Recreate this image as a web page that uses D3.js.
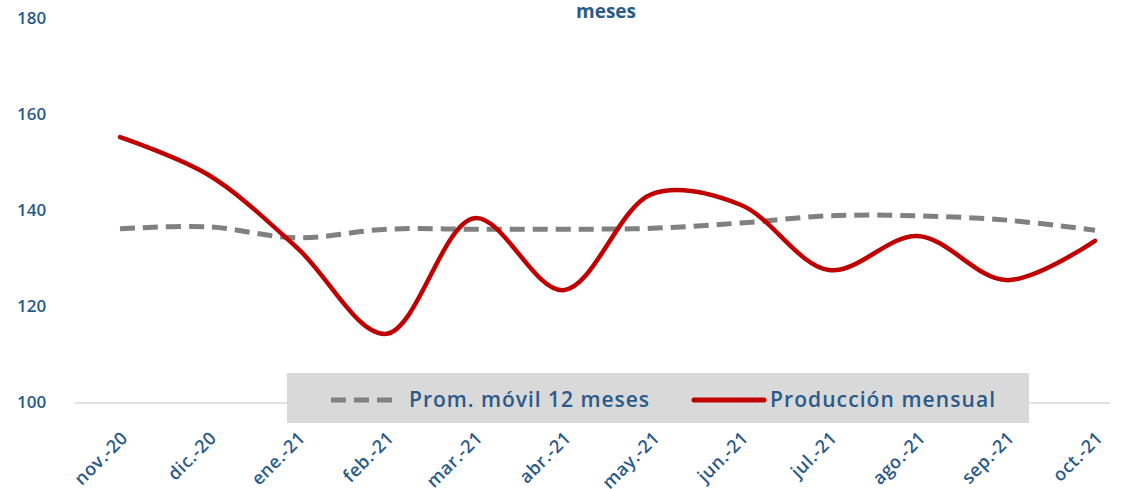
<!DOCTYPE html>
<html>
<head>
<meta charset="utf-8">
<script src="https://cdn.jsdelivr.net/npm/d3@7"></script>
<style>
  body { margin: 0; background: #fff; }
  text { font-family: "Open Sans", Lato, sans-serif; font-weight: 600; fill: #2a5a8a; }
</style>
</head>
<body>
<svg id="chart" width="1125" height="489"></svg>
<script>
var months = ["nov.-20", "dic.-20", "ene.-21", "feb.-21", "mar.-21", "abr.-21",
              "may.-21", "jun.-21", "jul.-21", "ago.-21", "sep.-21", "oct.-21"];
var produccion = [155.4, 147.5, 132.3, 114.4, 138.5, 123.5, 143.5, 141.3, 127.7, 134.8, 125.6, 133.8];
var promedio = [136.3, 136.7, 134.4, 136.2, 136.2, 136.2, 136.4, 137.5, 139.0, 139.0, 138.1, 136.0];
var yTicks = [100, 120, 140, 160, 180];

var svg = d3.select("#chart");

var x = d3.scalePoint().domain(months).range([120, 1095]);
var y = d3.scaleLinear().domain([100, 180]).range([403, 19]);

// title (its first line falls above the picture)
svg.append("text")
  .attr("x", 606).attr("y", 18)
  .attr("text-anchor", "middle")
  .style("font-size", "19px")
  .style("font-weight", "bold")
  .text("meses");

// y labels
svg.selectAll(".ylab")
  .data(yTicks)
  .enter().append("text")
  .attr("class", "ylab")
  .attr("x", 17)
  .attr("y", function(d) { return y(d); })
  .attr("dominant-baseline", "middle")
  .style("font-size", "17px")
  .text(function(d) { return d; });

// base axis line
svg.append("line")
  .attr("x1", 75).attr("x2", 1110)
  .attr("y1", y(100)).attr("y2", y(100))
  .attr("stroke", "#d9d9d9")
  .attr("stroke-width", 1.5);

// x labels
svg.selectAll(".xlab")
  .data(months)
  .enter().append("text")
  .attr("class", "xlab")
  .attr("text-anchor", "end")
  .attr("transform", function(d) {
    return "translate(" + [x(d) + 9, 439] + ") rotate(-45)";
  })
  .style("font-size", "18px")
  .style("letter-spacing", "0.5px")
  .text(function(d) { return d; });

var line = d3.line()
  .x(function(d, i) { return x(months[i]); })
  .y(function(d) { return y(d); })
  .curve(d3.curveCatmullRom.alpha(0.5));

svg.append("path")
  .attr("d", line(promedio))
  .attr("fill", "none")
  .attr("stroke", "#808080")
  .attr("stroke-width", 5)
  .attr("stroke-dasharray", "15 8");

svg.append("path")
  .attr("d", line(produccion))
  .attr("fill", "none")
  .attr("stroke", "#c00000")
  .attr("stroke-width", 4.5)
  .attr("stroke-linecap", "round");

// legend
var legend = svg.append("g");
legend.append("rect")
  .attr("x", 287).attr("y", 373)
  .attr("width", 742).attr("height", 50)
  .attr("fill", "#d9d9d9");
legend.append("line")
  .attr("x1", 331).attr("x2", 396)
  .attr("y1", 400).attr("y2", 400)
  .attr("stroke", "#808080")
  .attr("stroke-width", 5)
  .attr("stroke-dasharray", "15 8");
legend.append("text")
  .attr("x", 409).attr("y", 401)
  .attr("dominant-baseline", "middle")
  .attr("textLength", 240)
  .attr("lengthAdjust", "spacing")
  .style("font-size", "21px")
  .text("Prom. móvil 12 meses");
legend.append("line")
  .attr("x1", 694).attr("x2", 764)
  .attr("y1", 400).attr("y2", 400)
  .attr("stroke", "#c00000")
  .attr("stroke-width", 5)
  .attr("stroke-linecap", "round");
legend.append("text")
  .attr("x", 770).attr("y", 401)
  .attr("dominant-baseline", "middle")
  .attr("textLength", 225)
  .attr("lengthAdjust", "spacing")
  .style("font-size", "21px")
  .text("Producción mensual");
</script>
</body>
</html>
